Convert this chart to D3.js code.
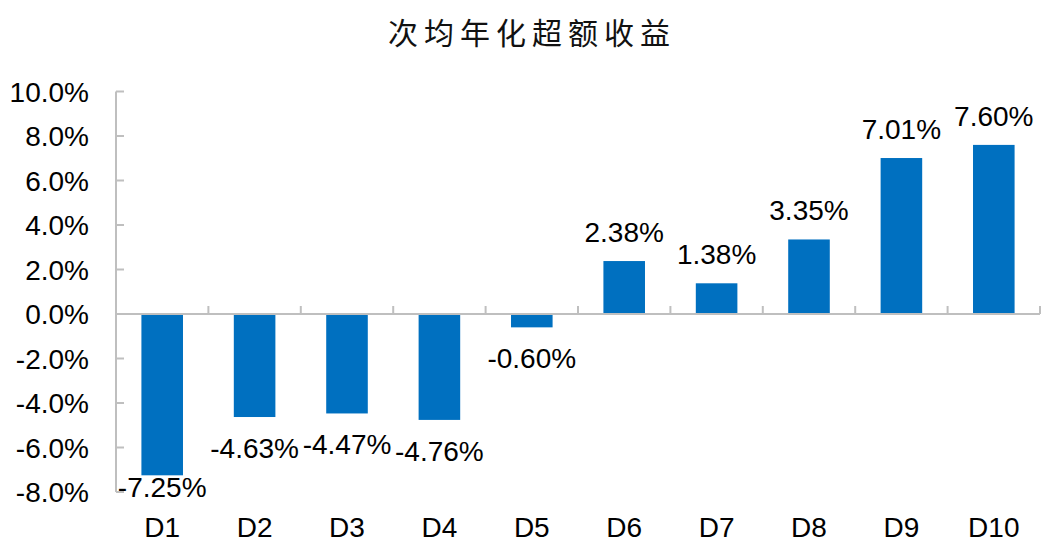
<!DOCTYPE html>
<html>
<head>
<meta charset="utf-8">
<script src="https://cdn.jsdelivr.net/npm/d3@7"></script>
<style>
  html, body { margin: 0; padding: 0; background: #fff; }
  svg { display: block; }
</style>
</head>
<body>
<svg id="chart" width="1056" height="552"></svg>
<script>
const title = "次均年化超额收益";
const categories = ["D1","D2","D3","D4","D5","D6","D7","D8","D9","D10"];
const values = [-7.25, -4.63, -4.47, -4.76, -0.60, 2.38, 1.38, 3.35, 7.01, 7.60];
const yTicks = [-8, -6, -4, -2, 0, 2, 4, 6, 8, 10];

const svg = d3.select("#chart");
const W = 1056, H = 552;
const margin = {left: 116, right: 16, top: 91.5, bottom: 60};
const plotBottom = H - margin.bottom;
const font = "'Liberation Sans', Arial, Helvetica, sans-serif";
const axisColor = "#bfbfbf";

const x = d3.scaleBand()
  .domain(categories)
  .range([margin.left, W - margin.right])
  .paddingInner(0.55)
  .paddingOuter(0.275);
const step = x.step();

const y = d3.scaleLinear()
  .domain([-8, 10])
  .range([plotBottom, margin.top]);

// Title
svg.append("text")
  .attr("x", W / 2 + 4)
  .attr("y", 44)
  .attr("text-anchor", "middle")
  .attr("font-family", "'Noto Sans CJK SC', sans-serif")
  .attr("font-size", 30)
  .attr("letter-spacing", 6)
  .attr("fill", "#111")
  .text(title);

// Bars
svg.append("g").selectAll("rect")
  .data(values)
  .join("rect")
  .attr("x", (d, i) => x(categories[i]))
  .attr("width", x.bandwidth())
  .attr("y", d => y(Math.max(0, d)))
  .attr("height", d => Math.abs(y(d) - y(0)))
  .attr("fill", "#0070C0");

// Y axis
const yAxis = svg.append("g");
yAxis.append("line")
  .attr("x1", margin.left).attr("x2", margin.left)
  .attr("y1", y(10)).attr("y2", y(-8))
  .attr("stroke", axisColor).attr("stroke-width", 2);
yAxis.selectAll("line.tick")
  .data(yTicks)
  .join("line")
  .attr("class", "tick")
  .attr("x1", margin.left).attr("x2", margin.left + 8)
  .attr("y1", d => y(d)).attr("y2", d => y(d))
  .attr("stroke", axisColor).attr("stroke-width", 2);
yAxis.selectAll("text")
  .data(yTicks)
  .join("text")
  .attr("x", 89)
  .attr("y", d => y(d) + 10)
  .attr("text-anchor", "end")
  .attr("font-family", font)
  .attr("font-size", 28)
  .attr("fill", "#000")
  .text(d => d.toFixed(1) + "%");

// X axis at zero
const xAxis = svg.append("g");
xAxis.append("line")
  .attr("x1", margin.left).attr("x2", W - margin.right)
  .attr("y1", y(0)).attr("y2", y(0))
  .attr("stroke", axisColor).attr("stroke-width", 2);
const bounds = categories.map(c => x(c) - (step - x.bandwidth()) / 2 + step);
xAxis.selectAll("line.tick")
  .data(bounds)
  .join("line")
  .attr("class", "tick")
  .attr("x1", d => d).attr("x2", d => d)
  .attr("y1", y(0)).attr("y2", y(0) - 8)
  .attr("stroke", axisColor).attr("stroke-width", 2);

// Category labels at bottom
svg.append("g").selectAll("text")
  .data(categories)
  .join("text")
  .attr("x", d => x(d) + x.bandwidth() / 2)
  .attr("y", 537)
  .attr("text-anchor", "middle")
  .attr("font-family", font)
  .attr("font-size", 28)
  .attr("fill", "#000")
  .text(d => d);

// Value labels
svg.append("g").selectAll("text")
  .data(values)
  .join("text")
  .attr("x", (d, i) => x(categories[i]) + x.bandwidth() / 2)
  .attr("y", d => {
    if (d >= 0) return y(d) - 19;
    const c = y(d) + 31;
    return Math.min(c, plotBottom - 5) + 10;
  })
  .attr("text-anchor", "middle")
  .attr("font-family", font)
  .attr("font-size", 28)
  .attr("fill", "#000")
  .text(d => d.toFixed(2) + "%");
</script>
</body>
</html>
